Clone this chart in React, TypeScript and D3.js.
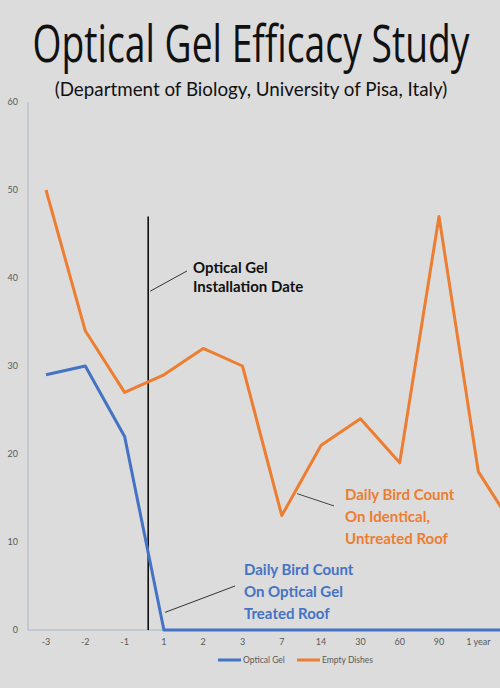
import React, { useLayoutEffect, useRef, useState } from 'react';
import * as d3 from 'd3';

// categories along the x axis (last one sits past the right edge, as in the source)
const categories = ['-3', '-2', '-1', '1', '2', '3', '7', '14', '30', '60', '90', '1 year', ''];
const opticalGel = [29, 30, 22, 0, 0, 0, 0, 0, 0, 0, 0, 0, 0];
const emptyDishes = [50, 34, 27, 29, 32, 30, 13, 21, 24, 19, 47, 18, 11];
const yTicks = [0, 10, 20, 30, 40, 50, 60];

const W = 500;
const H = 688;
const BLUE = '#4472c4';
const ORANGE = '#ed7d31';
const FONT = 'Lato, "Open Sans", sans-serif';

// squeeze a text horizontally to a target width (the source uses a condensed face)
function Squeezed({ x, y, width, children, ...rest }: any) {
  const ref = useRef<SVGTextElement>(null);
  const [sx, setSx] = useState(1);
  useLayoutEffect(() => {
    if (ref.current) {
      const w = ref.current.getComputedTextLength();
      if (w > 0) setSx(width / w);
    }
  }, [width]);
  return (
    <text
      ref={ref}
      transform={`translate(${x},${y}) scale(${sx},1)`}
      textAnchor="middle"
      {...rest}
    >
      {children}
    </text>
  );
}

export default function App() {
  const x = d3
    .scalePoint<string>()
    .domain(categories)
    .range([46, 46 + 12 * 39.3]);
  const step = x.step();

  const y = d3.scaleLinear().domain([0, 60]).range([630, 102]);

  const line = d3
    .line<number>()
    .x((_, i) => x(categories[i]) as number)
    .y(d => y(d));

  const left = 28;
  // install date falls between day -1 and day 1
  const installX = (x('-1') as number) + step * 0.6;

  return (
    <svg
      width={W}
      height={H}
      style={{ position: 'absolute', left: 0, top: 0, background: '#dcdcdc' }}
    >
      <rect width={W} height={H} fill="#dcdcdc" />

      {/* title */}
      <Squeezed
        x={251}
        y={62}
        width={437}
        fontFamily='"Open Sans", sans-serif'
        fontWeight={400}
        fontSize={52}
        fill="#111"
      >
        Optical Gel Efficacy Study
      </Squeezed>
      <Squeezed x={251} y={96} width={393} fontFamily={FONT} fontSize={19} fill="#111">
        (Department of Biology, University of Pisa, Italy)
      </Squeezed>

      {/* axes */}
      <line x1={left} x2={left} y1={y(60)} y2={y(0)} stroke="#a9b6c8" strokeWidth={1} />
      <line x1={left} x2={W} y1={y(0)} y2={y(0)} stroke="#a9b6c8" strokeWidth={1} />
      {yTicks.map(t => (
        <text
          key={t}
          x={18}
          y={y(t) + 3}
          textAnchor="end"
          fontFamily={FONT}
          fontSize={9}
          fill="#595959"
        >
          {t}
        </text>
      ))}
      {categories.map(c => (
        <text
          key={c}
          x={x(c)}
          y={645}
          textAnchor="middle"
          fontFamily={FONT}
          fontSize={9}
          fill="#595959"
        >
          {c}
        </text>
      ))}

      {/* installation date marker */}
      <line x1={installX} x2={installX} y1={y(47)} y2={y(0)} stroke="#000" strokeWidth={1.5} />

      {/* series */}
      <path d={line(emptyDishes) || ''} fill="none" stroke={ORANGE} strokeWidth={3} strokeLinejoin="round" />
      <path d={line(opticalGel) || ''} fill="none" stroke={BLUE} strokeWidth={3} strokeLinejoin="round" />

      {/* annotations */}
      <line x1={installX + 2} x2={187} y1={y(38.5)} y2={y(40.8)} stroke="#333" strokeWidth={1} />
      <text fontFamily={FONT} fontWeight={700} fontSize={15} fill="#111">
        <tspan x={193} y={273}>Optical Gel</tspan>
        <tspan x={193} y={292}>Installation Date</tspan>
      </text>

      <line x1={297} x2={334} y1={y(15.5)} y2={y(14.1)} stroke="#444" strokeWidth={1} />
      <text fontFamily={FONT} fontWeight={700} fontSize={15} fill={ORANGE}>
        <tspan x={345} y={500}>Daily Bird Count</tspan>
        <tspan x={345} y={522}>On Identical,</tspan>
        <tspan x={345} y={544}>Untreated Roof</tspan>
      </text>

      <line x1={165} x2={235} y1={y(2)} y2={y(5)} stroke="#333" strokeWidth={1} />
      <text fontFamily={FONT} fontWeight={700} fontSize={15} fill={BLUE}>
        <tspan x={244} y={575}>Daily Bird Count</tspan>
        <tspan x={244} y={597}>On Optical Gel</tspan>
        <tspan x={244} y={619}>Treated Roof</tspan>
      </text>

      {/* legend */}
      <line x1={218} x2={241} y1={660} y2={660} stroke={BLUE} strokeWidth={3} />
      <text x={243} y={663} fontFamily={FONT} fontSize={8.5} fill="#595959">Optical Gel</text>
      <line x1={297} x2={320} y1={660} y2={660} stroke={ORANGE} strokeWidth={3} />
      <text x={322} y={663} fontFamily={FONT} fontSize={8.5} fill="#595959">Empty Dishes</text>
    </svg>
  );
}
